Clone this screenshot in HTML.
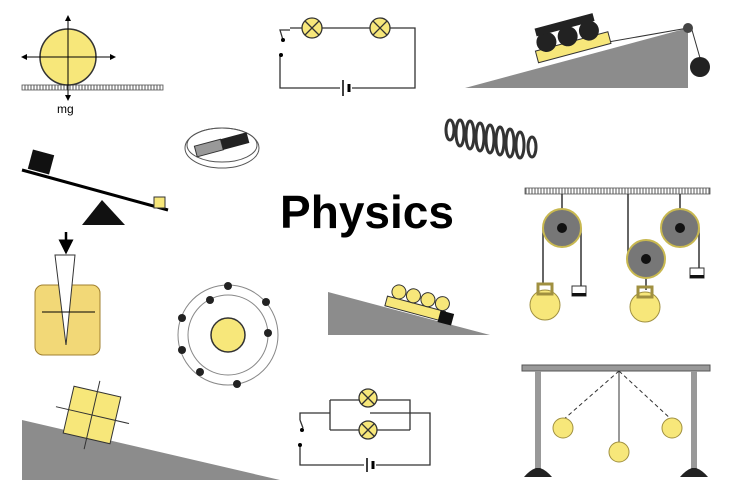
<!DOCTYPE html>
<html><head><meta charset="utf-8"><style>
html,body{margin:0;padding:0;background:#fff}
svg{display:block}
</style></head><body>
<svg width="735" height="495" viewBox="0 0 735 495" xmlns="http://www.w3.org/2000/svg" font-family="Liberation Sans, sans-serif">
<defs>
<pattern id="hatch" width="3" height="6" patternUnits="userSpaceOnUse"><rect width="3" height="6" fill="#fff"/><line x1="1" y1="0" x2="1" y2="6" stroke="#555" stroke-width="1"/></pattern>
<marker id="ar" markerWidth="6" markerHeight="6" refX="5" refY="3" orient="auto"><path d="M0,0 L6,3 L0,6 z" fill="#000"/></marker>
</defs>
<rect x="22" y="85" width="141" height="5" fill="url(#hatch)" stroke="#555" stroke-width="0.8"/>
<circle cx="68" cy="57" r="28" fill="#f7e77a" stroke="#333" stroke-width="1.5"/>
<line x1="68" y1="100" x2="68" y2="16" stroke="#000" marker-end="url(#ar)"/>
<line x1="68" y1="57" x2="68" y2="100" stroke="#000" marker-end="url(#ar)"/>
<line x1="68" y1="57" x2="22" y2="57" stroke="#000" marker-end="url(#ar)"/>
<line x1="68" y1="57" x2="115" y2="57" stroke="#000" marker-end="url(#ar)"/>
<text x="57" y="113" font-size="12">mg</text>
<path d="M290,28 H415 V88 H280 V55 M283,40 L280,30 H290" fill="none" stroke="#333" stroke-width="1.3"/>
<circle cx="281" cy="55" r="2" fill="#000"/><circle cx="283" cy="40" r="2" fill="#000"/>
<g stroke="#333" stroke-width="1.3"><circle cx="312" cy="28" r="10" fill="#f7e77a"/><circle cx="380" cy="28" r="10" fill="#f7e77a"/>
<path d="M305,21 L319,35 M319,21 L305,35 M373,21 L387,35 M387,21 L373,35"/></g>
<rect x="340" y="80" width="12" height="16" fill="#fff"/>
<line x1="343" y1="80" x2="343" y2="96" stroke="#000" stroke-width="1.5"/><line x1="349" y1="84" x2="349" y2="92" stroke="#000" stroke-width="3"/>
<polygon points="465,88 688,28 688,88" fill="#8c8c8c"/>
<line x1="540" y1="54" x2="688" y2="28" stroke="#333"/>
<line x1="692" y1="30" x2="700" y2="58" stroke="#333"/>
<circle cx="688" cy="28" r="5" fill="#444"/>
<circle cx="700" cy="67" r="10" fill="#222"/>
<g transform="rotate(-15 570 45)"><rect x="535" y="42" width="75" height="12" fill="#f7e77a" stroke="#333"/>
<circle cx="548" cy="36" r="10" fill="#222"/><circle cx="570" cy="36" r="10" fill="#222"/><circle cx="592" cy="36" r="10" fill="#222"/>
<rect x="540" y="20" width="60" height="8" fill="#222"/></g>
<ellipse cx="222" cy="145" rx="35" ry="17" fill="none" stroke="#555"/><ellipse cx="222" cy="148" rx="37" ry="20" fill="none" stroke="#555"/>
<g transform="rotate(-15 222 145)"><rect x="195" y="139" width="27" height="11" fill="#999" stroke="#333"/><rect x="222" y="139" width="27" height="11" fill="#222"/></g>
<g fill="none" stroke="#333" stroke-width="3">
<ellipse cx="450" cy="130" rx="4" ry="10"/><ellipse cx="460" cy="133" rx="4" ry="13"/><ellipse cx="470" cy="135" rx="4" ry="14"/><ellipse cx="480" cy="137" rx="4" ry="14"/><ellipse cx="490" cy="139" rx="4" ry="14"/><ellipse cx="500" cy="141" rx="4" ry="14"/><ellipse cx="510" cy="143" rx="4" ry="14"/><ellipse cx="520" cy="145" rx="4" ry="13"/><ellipse cx="532" cy="147" rx="4" ry="10"/></g>
<line x1="22" y1="170" x2="168" y2="210" stroke="#000" stroke-width="3"/>
<rect x="30" y="152" width="22" height="20" fill="#111" transform="rotate(15 41 162)"/>
<rect x="154" y="197" width="11" height="11" fill="#f7e77a" stroke="#333"/>
<polygon points="102,200 82,225 125,225" fill="#111"/>
<text x="367" y="228" font-size="46" font-weight="bold" text-anchor="middle" fill="#000">Physics</text>
<rect x="35" y="285" width="65" height="70" rx="8" fill="#f2d877" stroke="#a08030"/>
<polygon points="55,255 75,255 66,345" fill="#fff" stroke="#333"/>
<line x1="66" y1="232" x2="66" y2="252" stroke="#000" stroke-width="2.5" marker-end="url(#ar)"/>
<line x1="42" y1="312" x2="95" y2="312" stroke="#000"/>
<circle cx="228" cy="335" r="40" fill="none" stroke="#888"/><circle cx="228" cy="335" r="50" fill="none" stroke="#888"/>
<circle cx="228" cy="335" r="17" fill="#f7e77a" stroke="#333" stroke-width="1.5"/>
<g fill="#222"><circle cx="182" cy="318" r="4"/><circle cx="182" cy="350" r="4"/><circle cx="228" cy="286" r="4"/><circle cx="266" cy="302" r="4"/><circle cx="268" cy="333" r="4"/><circle cx="237" cy="384" r="4"/><circle cx="200" cy="372" r="4"/><circle cx="210" cy="300" r="4"/></g>
<polygon points="328,292 490,335 328,335" fill="#8c8c8c"/>
<g transform="rotate(15 420 310)"><rect x="385" y="305" width="60" height="10" fill="#f7e77a" stroke="#333"/>
<circle cx="395" cy="298" r="7" fill="#f7e77a" stroke="#333"/><circle cx="410" cy="298" r="7" fill="#f7e77a" stroke="#333"/><circle cx="425" cy="298" r="7" fill="#f7e77a" stroke="#333"/><circle cx="440" cy="298" r="7" fill="#f7e77a" stroke="#333"/>
<rect x="440" y="305" width="14" height="12" fill="#111"/></g>
<rect x="525" y="188" width="185" height="6" fill="url(#hatch)" stroke="#555" stroke-width="0.8"/>
<g stroke="#333" stroke-width="1.5">
<line x1="562" y1="194" x2="562" y2="228"/><line x1="680" y1="194" x2="680" y2="228"/><line x1="628" y1="194" x2="628" y2="259"/>
<line x1="543" y1="228" x2="543" y2="285"/><line x1="581" y1="228" x2="581" y2="288"/>
<line x1="699" y1="228" x2="699" y2="268"/><line x1="646" y1="259" x2="646" y2="290"/></g>
<g stroke="#c8b850" stroke-width="2" fill="#777"><circle cx="562" cy="228" r="19"/><circle cx="680" cy="228" r="19"/><circle cx="646" cy="259" r="19"/></g>
<g fill="#111"><circle cx="562" cy="228" r="5"/><circle cx="680" cy="228" r="5"/><circle cx="646" cy="259" r="5"/></g>
<g fill="#f7e77a" stroke="#a09040"><circle cx="545" cy="305" r="15"/><rect x="538" y="284" width="14" height="10" fill="none" stroke-width="3"/>
<circle cx="645" cy="307" r="15"/><rect x="638" y="287" width="14" height="10" fill="none" stroke-width="3"/></g>
<rect x="572" y="286" width="14" height="10" fill="#fff" stroke="#333"/><rect x="572" y="293" width="14" height="3" fill="#111"/>
<rect x="690" y="268" width="14" height="10" fill="#fff" stroke="#333"/><rect x="690" y="275" width="14" height="3" fill="#111"/>
<polygon points="22,420 280,480 22,480" fill="#8c8c8c"/>
<g transform="rotate(13 92 415)"><rect x="68" y="391" width="48" height="48" fill="#f7e77a" stroke="#333"/>
<line x1="92" y1="380" x2="92" y2="450" stroke="#333"/><line x1="55" y1="415" x2="130" y2="415" stroke="#333"/></g>
<path d="M330,400 V430 M330,400 H410 V430 M330,430 H410 M370,413 H430 V465 H300 V445 M303,428 L300,420 M300,420 V413 H330" fill="none" stroke="#333" stroke-width="1.3"/>
<g stroke="#333" stroke-width="1.3"><circle cx="368" cy="398" r="9" fill="#f7e77a"/><circle cx="368" cy="430" r="9" fill="#f7e77a"/>
<path d="M362,392 L374,404 M374,392 L362,404 M362,424 L374,436 M374,424 L362,436"/></g>
<circle cx="300" cy="445" r="2" fill="#000"/><circle cx="302" cy="430" r="2" fill="#000"/>
<rect x="364" y="458" width="12" height="14" fill="#fff"/>
<line x1="367" y1="458" x2="367" y2="472" stroke="#000" stroke-width="1.5"/><line x1="373" y1="461" x2="373" y2="469" stroke="#000" stroke-width="3"/>
<rect x="522" y="365" width="188" height="6" fill="#999" stroke="#555"/>
<rect x="535" y="371" width="6" height="100" fill="#999"/><rect x="691" y="371" width="6" height="100" fill="#999"/>
<path d="M524,477 Q530,470 536,468 L540,468 Q546,470 552,477 Z M680,477 Q686,470 692,468 L696,468 Q702,470 708,477 Z" fill="#222"/>
<g stroke="#333" stroke-dasharray="4,3"><line x1="619" y1="371" x2="563" y2="420"/><line x1="619" y1="371" x2="672" y2="420"/></g>
<line x1="619" y1="371" x2="619" y2="443" stroke="#333"/>
<g fill="#f7e77a" stroke="#a09040"><circle cx="563" cy="428" r="10"/><circle cx="619" cy="452" r="10"/><circle cx="672" cy="428" r="10"/></g>
</svg>
</body></html>
